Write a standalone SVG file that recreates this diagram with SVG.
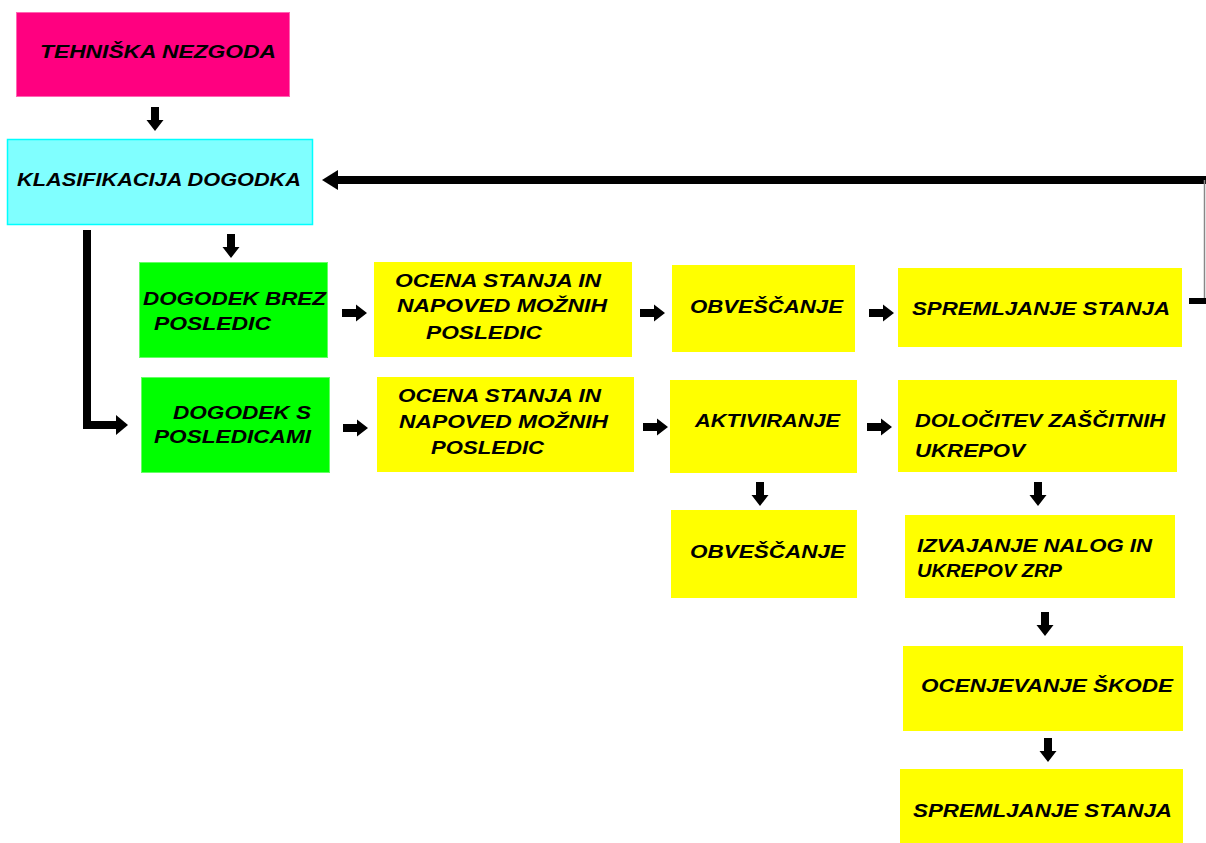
<svg xmlns="http://www.w3.org/2000/svg" width="1206" height="843" viewBox="0 0 1206 843">
<style>
text{font-family:"Liberation Sans",Arial,sans-serif;font-style:italic;font-weight:bold;font-size:19px;fill:#000}
.pink{fill:#FF0080;stroke:#FF66B3;stroke-width:1}
.cyan{fill:#80FFFF;stroke:#00FFFF;stroke-width:1.5}
.green{fill:#00FF00;stroke:#66FF66;stroke-width:1}
.yellow{fill:#FFFF00}
.thick{fill:none;stroke:#000;stroke-width:8}
</style>
<defs>
<path id="ar" d="M0,-4 H14 V-8.5 L25,0 L14,8.5 V4 H0 Z" fill="#000"/>
<path id="ad" d="M-4,0 V13 H-8.5 L0,24 L8.5,13 H4 V0 Z" fill="#000"/>
</defs>
<rect width="1206" height="843" fill="#fff"/>
<g id="connectors">
<use href="#ad" x="155" y="107"/>
<use href="#ad" x="231" y="234"/>
<path class="thick" d="M1206,180 H336"/>
<path d="M338,170 L322,180 L338,190 Z" fill="#000"/>
<line x1="1204.5" y1="180" x2="1204.5" y2="302" stroke="#888" stroke-width="1.5"/>
<path d="M1189,301 H1206" stroke="#000" stroke-width="6"/>
<path class="thick" d="M87,230 V425 H117"/>
<path d="M116,415 L128,425 L116,435 Z" fill="#000"/>
<use href="#ar" x="342" y="313"/>
<use href="#ar" x="343" y="428"/>
<use href="#ar" x="640" y="313"/>
<use href="#ar" x="643" y="427"/>
<use href="#ar" x="869" y="313"/>
<use href="#ar" x="867" y="427"/>
<use href="#ad" x="760" y="482"/>
<use href="#ad" x="1038" y="482"/>
<use href="#ad" x="1045" y="612"/>
<use href="#ad" x="1048" y="738"/>
</g>
<g id="n1"><rect class="pink" x="16.5" y="12.5" width="273" height="84"/>
<text x="40" y="58" textLength="236" lengthAdjust="spacingAndGlyphs">TEHNIŠKA NEZGODA</text></g>
<g id="n2"><rect class="cyan" x="7.5" y="139.5" width="305" height="85"/>
<text x="17" y="186" textLength="284" lengthAdjust="spacingAndGlyphs">KLASIFIKACIJA DOGODKA</text></g>
<g id="n3"><rect class="green" x="139.5" y="262.5" width="188" height="95"/>
<text x="143" y="305" textLength="183" lengthAdjust="spacingAndGlyphs">DOGODEK BREZ</text>
<text x="154" y="330" textLength="117" lengthAdjust="spacingAndGlyphs">POSLEDIC</text></g>
<g id="n4"><rect class="green" x="141.5" y="377.5" width="188" height="95"/>
<text x="173" y="419" textLength="138" lengthAdjust="spacingAndGlyphs">DOGODEK S</text>
<text x="154" y="443" textLength="157" lengthAdjust="spacingAndGlyphs">POSLEDICAMI</text></g>
<g id="n5"><rect class="yellow" x="374" y="262" width="258" height="95"/>
<text x="395" y="287" textLength="206" lengthAdjust="spacingAndGlyphs">OCENA STANJA IN</text>
<text x="397" y="312" textLength="210" lengthAdjust="spacingAndGlyphs">NAPOVED MOŽNIH</text>
<text x="426" y="339" textLength="116" lengthAdjust="spacingAndGlyphs">POSLEDIC</text></g>
<g id="n6"><rect class="yellow" x="377" y="377" width="257" height="95"/>
<text x="398" y="402" textLength="203" lengthAdjust="spacingAndGlyphs">OCENA STANJA IN</text>
<text x="399" y="428" textLength="209" lengthAdjust="spacingAndGlyphs">NAPOVED MOŽNIH</text>
<text x="431" y="454" textLength="113" lengthAdjust="spacingAndGlyphs">POSLEDIC</text></g>
<g id="n7"><rect class="yellow" x="672" y="265" width="183" height="87"/>
<text x="690" y="313" textLength="153" lengthAdjust="spacingAndGlyphs">OBVEŠČANJE</text></g>
<g id="n8"><rect class="yellow" x="670" y="380" width="187" height="93"/>
<text x="695" y="427" textLength="145" lengthAdjust="spacingAndGlyphs">AKTIVIRANJE</text></g>
<g id="n9"><rect class="yellow" x="898" y="268" width="284" height="79"/>
<text x="912" y="315" textLength="258" lengthAdjust="spacingAndGlyphs">SPREMLJANJE STANJA</text></g>
<g id="n10"><rect class="yellow" x="898" y="380" width="279" height="92"/>
<text x="915" y="427" textLength="250" lengthAdjust="spacingAndGlyphs">DOLOČITEV ZAŠČITNIH</text>
<text x="915" y="457" textLength="110" lengthAdjust="spacingAndGlyphs">UKREPOV</text></g>
<g id="n11"><rect class="yellow" x="671" y="510" width="186" height="88"/>
<text x="690" y="558" textLength="155" lengthAdjust="spacingAndGlyphs">OBVEŠČANJE</text></g>
<g id="n12"><rect class="yellow" x="905" y="515" width="270" height="83"/>
<text x="917" y="552" textLength="235" lengthAdjust="spacingAndGlyphs">IZVAJANJE NALOG IN</text>
<text x="917" y="577" textLength="145" lengthAdjust="spacingAndGlyphs">UKREPOV ZRP</text></g>
<g id="n13"><rect class="yellow" x="903" y="646" width="280" height="85"/>
<text x="921" y="692" textLength="252" lengthAdjust="spacingAndGlyphs">OCENJEVANJE ŠKODE</text></g>
<g id="n14"><rect class="yellow" x="900" y="769" width="283" height="74"/>
<text x="913" y="817" textLength="259" lengthAdjust="spacingAndGlyphs">SPREMLJANJE STANJA</text></g>
</svg>
